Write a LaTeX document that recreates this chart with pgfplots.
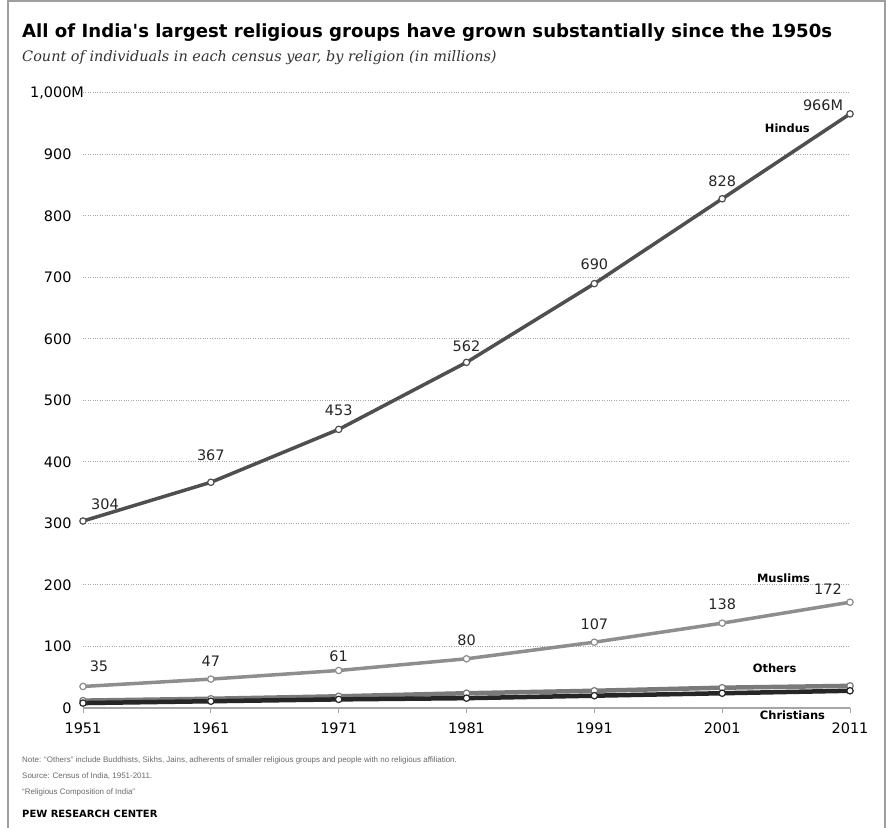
\documentclass[border=0pt]{standalone}
\usepackage{pgfplots}
\pgfplotsset{compat=1.18}
\usepackage{fontspec}
\setmainfont{Liberation Sans}
\newfontfamily\tickfont{DejaVu Sans}
\newfontfamily\boldfont{DejaVu Sans}
\newfontfamily\subfont{DejaVu Serif}
\definecolor{hindu}{HTML}{4F4F4F}
\definecolor{muslim}{HTML}{8E8E8E}
\definecolor{others}{HTML}{7A7A7A}
\definecolor{christ}{HTML}{262626}
\definecolor{gridc}{HTML}{A8A8A8}
\definecolor{notec}{HTML}{6A6A6A}
\newcommand{\tf}{\tickfont\fontsize{14.5}{15}\selectfont}
\begin{document}
\begin{tikzpicture}[x=1bp,y=1bp]
\useasboundingbox (0,0) rectangle (893,828);
\fill[white] (0,0) rectangle (893,828);
\draw[gray!75, line width=2.5bp] (8,-5) -- (8,827) -- (885,827) -- (885,-5);
\node[anchor=base west, inner sep=0, font=\boldfont\bfseries\fontsize{18.2}{19}\selectfont] at (22,790) {All of India's largest religious groups have grown substantially since the 1950s};
\node[anchor=base west, inner sep=0, font=\subfont\itshape\fontsize{14.5}{15}\selectfont, text=black!80] at (22,766) {Count of individuals in each census year, by religion (in millions)};
\begin{axis}[
  at={(83bp,120bp)}, anchor=south west,
  scale only axis, width=767bp, height=615bp,
  xmin=1951, xmax=2011, ymin=0, ymax=1000,
  clip=false,
  axis x line*=bottom, axis y line*=left,
  y axis line style={draw=none},
  x axis line style={draw=gray!70, line width=1.5bp, -},
  xtick={1951,1961,1971,1981,1991,2001,2011},
  xticklabels={1951,1961,1971,1981,1991,2001,2011},
  xtick align=outside, xtick style={draw=gray!70, line width=1bp},
  major tick length=5bp,
  ytick={0,100,200,300,400,500,600,700,800,900,1000},
  yticklabels={0,100,200,300,400,500,600,700,800,900,{1,000\rlap{M}}},
  ytick style={draw=none},
  ymajorgrids, grid style={gridc, dotted, line width=1bp},
  tick label style={font=\tf, text=black},
  /pgf/number format/assume math mode=true,
  yticklabel style={xshift=-8bp},
  xticklabel style={yshift=-6bp},
]
\addplot[muslim, line width=3.5bp, mark=*, mark size=3.2bp, mark options={fill=white, draw=muslim, line width=1.2bp}]
  coordinates {(1951,35) (1961,47) (1971,61) (1981,80) (1991,107) (2001,138) (2011,172)};
\addplot[others, line width=4.5bp, mark=*, mark size=3.2bp, mark options={fill=white, draw=others, line width=1.2bp}]
  coordinates {(1951,12) (1961,15) (1971,19) (1981,24) (1991,28) (2001,33) (2011,36)};
\addplot[christ, line width=4.5bp, mark=*, mark size=3.2bp, mark options={fill=white, draw=christ, line width=1.2bp}]
  coordinates {(1951,8) (1961,11) (1971,14) (1981,16) (1991,20) (2001,24) (2011,28)};
\addplot[hindu, line width=3.5bp, mark=*, mark size=3.2bp, mark options={fill=white, draw=hindu, line width=1.2bp}]
  coordinates {(1951,304) (1961,367) (1971,453) (1981,562) (1991,690) (2001,828) (2011,966)};
\begin{scope}[every node/.style={font=\tf, text=black!85, inner sep=0}]
\node at (axis cs:1951,304) [xshift=22bp, yshift=17bp] {304};
\node at (axis cs:1961,367) [yshift=27bp] {367};
\node at (axis cs:1971,453) [yshift=19bp] {453};
\node at (axis cs:1981,562) [yshift=16bp] {562};
\node at (axis cs:1991,690) [yshift=19bp] {690};
\node at (axis cs:2001,828) [yshift=18bp] {828};
\node at (axis cs:2011,966) [xshift=-27bp, yshift=9bp] {966M};
\node at (axis cs:1951,35) [xshift=16bp, yshift=20bp] {35};
\node at (axis cs:1961,47) [yshift=18bp] {47};
\node at (axis cs:1971,61) [yshift=14bp] {61};
\node at (axis cs:1981,80) [yshift=19bp] {80};
\node at (axis cs:1991,107) [yshift=18bp] {107};
\node at (axis cs:2001,138) [yshift=19bp] {138};
\node at (axis cs:2011,172) [xshift=-22bp, yshift=13bp] {172};
\end{scope}
\begin{scope}[every node/.style={font=\boldfont\bfseries\fontsize{11.5}{12}\selectfont, inner sep=0}]
\node at (axis cs:2006.1,943) {Hindus};
\node at (axis cs:2005.8,211) {Muslims};
\node at (axis cs:2005.1,65) {Others};
\node at (axis cs:2006.5,-11) {Christians};
\end{scope}
\end{axis}
\begin{scope}[every node/.style={anchor=base west, inner sep=0, font=\fontsize{8}{9}\selectfont, text=notec}]
\node at (22,65) {Note: ``Others'' include Buddhists, Sikhs, Jains, adherents of smaller religious groups and people with no religious affiliation.};
\node at (22,49) {Source: Census of India, 1951-2011.};
\node at (22,33) {``Religious Composition of India''};
\end{scope}
\node[anchor=base west, inner sep=0, font=\boldfont\bfseries\fontsize{10}{10}\selectfont] at (22,10) {PEW RESEARCH CENTER};
\end{tikzpicture}
\end{document}
